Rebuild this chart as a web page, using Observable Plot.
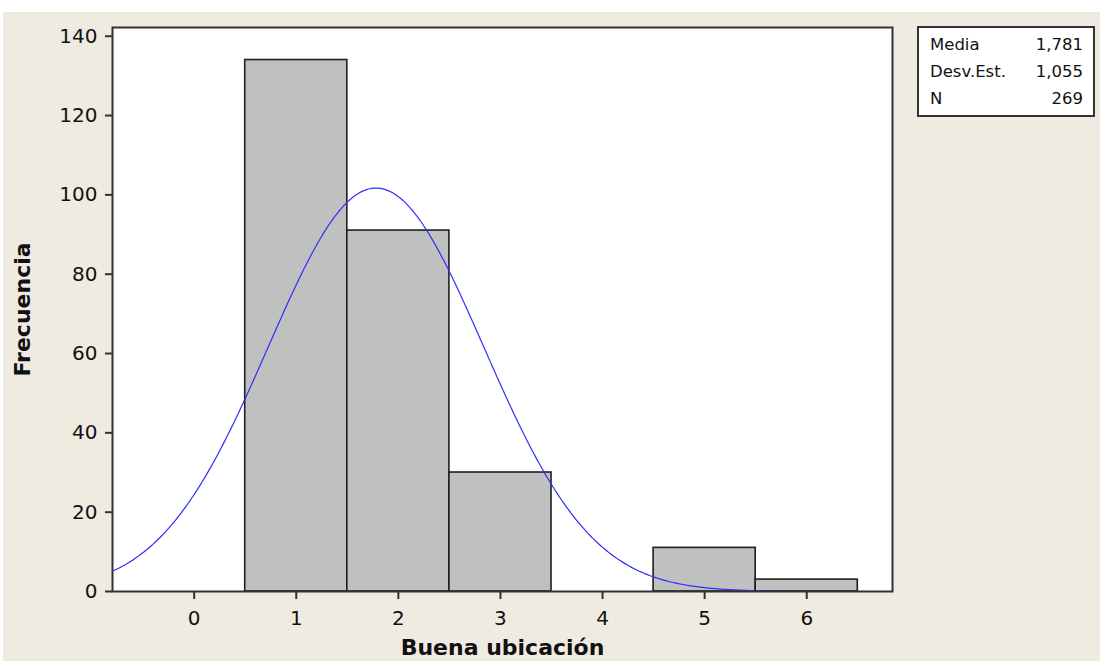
<!DOCTYPE html>
<html>
<head>
<meta charset="utf-8">
<script src="https://cdn.jsdelivr.net/npm/d3@7"></script>
<script src="https://cdn.jsdelivr.net/npm/@observablehq/plot@0.6"></script>
<style>
  html, body { margin: 0; padding: 0; background: #ffffff; }
  #page { position: relative; width: 1100px; height: 661px; overflow: hidden; background: #ffffff; }
  #panel { position: absolute; left: 3px; top: 12px; width: 1097px; height: 649px; background: #EFEBE1; }
  #chart { position: absolute; left: 0; top: 0; }
  #stats {
    position: absolute; left: 914px; top: 14px; width: 174px; height: 87px;
    border: 2px solid #333; background: #fff;
    font-family: "DejaVu Sans", sans-serif; font-size: 16.5px; color: #111;
    box-sizing: content-box;
  }
  #stats .row { position: absolute; left: 11px; right: 10px; height: 20px; line-height: 20px; }
  #stats .row span.v { position: absolute; right: 0; }
</style>
</head>
<body>
<div id="page">
  <div id="panel">
    <div id="chart"></div>
    <div id="stats"></div>
  </div>
</div>
<script>
// Histogram of "Buena ubicación" scores with fitted normal curve
const categories = [1, 2, 3, 4, 5, 6];
const counts = [134, 91, 30, 0, 11, 3];
const xTicks = [0, 1, 2, 3, 4, 5, 6];
const yTicks = [0, 20, 40, 60, 80, 100, 120, 140];

// Summary statistics shown in the box
const statLabels = ["Media", "Desv.Est.", "N"];
const statValues = ["1,781", "1,055", "269"];
const mean = 1.781;
const sd = 1.055;
const n = 269;
const binWidth = 1;

const bars = categories.map((v, i) => ({v, n: counts[i]})).filter(d => d.n > 0);

// Fitted normal density, scaled to counts
const curveRange = [-0.8, 5.72];
const curve = d3.range(curveRange[0], curveRange[1] + 1e-9, 0.02).map(x => ({
  x,
  y: n * binWidth * Math.exp(-0.5 * ((x - mean) / sd) ** 2) / (sd * Math.sqrt(2 * Math.PI))
}));

const chart = Plot.plot({
  width: 1097,
  height: 649,
  marginLeft: 109,
  marginRight: 208,
  marginTop: 15,
  marginBottom: 70,
  style: {background: "transparent", fontFamily: "DejaVu Sans, sans-serif", fontSize: "20px", color: "#111"},
  x: {domain: [-0.8, 6.84]},
  y: {domain: [0, 142.2]},
  marks: [
    Plot.frame({fill: "white", stroke: "none"}),
    Plot.rect(bars, {x1: d => d.v - 0.5, x2: d => d.v + 0.5, y1: 0, y2: "n", fill: "#C0C0C0", stroke: "#1e1e1e", strokeWidth: 1.6}),
    Plot.line(curve, {x: "x", y: "y", stroke: "#2E2EFF", strokeWidth: 1.2}),
    Plot.frame({stroke: "#333", strokeWidth: 2}),
    Plot.axisX({ticks: xTicks, tickSize: 8, tickPadding: 11, label: null, stroke: "#333", strokeWidth: 2}),
    Plot.axisY({ticks: yTicks, tickSize: 7, tickPadding: 8, label: null, stroke: "#333", strokeWidth: 2}),
    Plot.text(["Buena ubicación"], {frameAnchor: "bottom", dy: 63, fontWeight: "bold", fontSize: 22, fill: "#111"}),
    Plot.text(["Frecuencia"], {frameAnchor: "left", textAnchor: "middle", dx: -90, rotate: -90, fontWeight: "bold", fontSize: 22, fill: "#111"})
  ]
});
document.getElementById("chart").appendChild(chart);

const stats = document.getElementById("stats");
statLabels.forEach((label, i) => {
  const row = document.createElement("div");
  row.className = "row";
  row.style.top = (7 + i * 27) + "px";
  row.innerHTML = `<span>${label}</span><span class="v">${statValues[i]}</span>`;
  stats.appendChild(row);
});
</script>
</body>
</html>
